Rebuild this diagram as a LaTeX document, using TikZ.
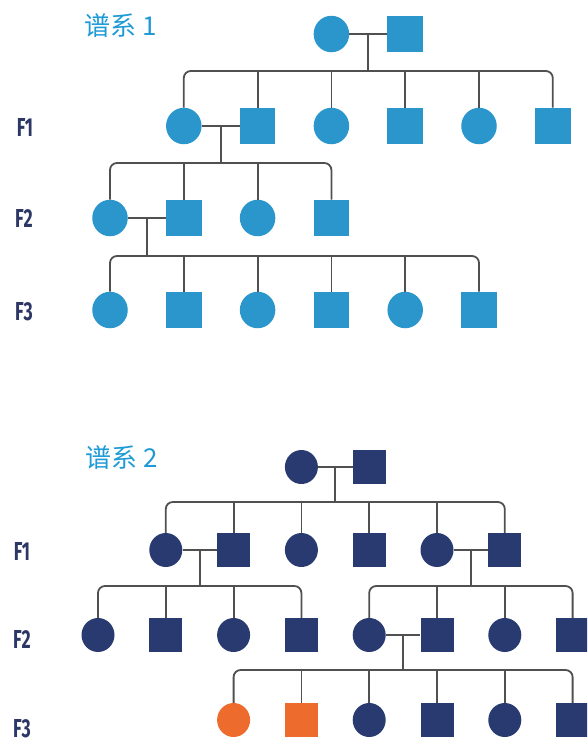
\documentclass[tikz,border=0pt]{standalone}
\usepackage{fontspec}
\usetikzlibrary{shapes.geometric,calc}
\newfontfamily\cjkfont{Noto Sans CJK SC}
\newfontfamily\genfont[FakeStretch=0.68]{Fira Sans}
\definecolor{skyfill}{HTML}{2B96CC}
\definecolor{navyfill}{HTML}{283A70}
\definecolor{orangefill}{HTML}{EE6B2E}
\definecolor{titleblue}{HTML}{1E9AD6}
\definecolor{genblue}{HTML}{2D3766}
\definecolor{linegray}{HTML}{505050}
\tikzset{
  fem/.style={ellipse, inner sep=0pt, draw=none, fill=#1},
  mal/.style={rectangle, inner sep=0pt, draw=none, fill=#1},
  sizeA/.style={minimum width=35.5pt, minimum height=36.5pt},
  sizeB/.style={minimum width=33pt, minimum height=34pt},
  link/.style={draw=linegray, line width=1.8pt},
  bar/.style={link, rounded corners=7pt},
  gen/.style={text=genblue, font=\genfont\bfseries\fontsize{26}{26}\selectfont, inner sep=0pt},
  title/.style={text=titleblue, font=\cjkfont\fontsize{26}{26}\selectfont, inner sep=0pt, anchor=west}
}
\begin{document}
\begin{tikzpicture}[x=1pt, y=-1pt]
\useasboundingbox (0,0) rectangle (587,745);
\clip (0,0) rectangle (587,745);

% ---------------- pedigree 1 ----------------
\node[title] (t1) at (84,26) {谱系 1};
\node[gen] (l11) at (25,127.5) {F1};
\node[gen] (l12) at (24,218) {F2};
\node[gen] (l13) at (24,312) {F3};

\begin{scope}[every node/.append style={sizeA}]
\node[fem=skyfill] (a1) at (331.4,34) {};
\node[mal=skyfill] (a2) at (405.2,34) {};

\node[fem=skyfill] (b1) at (183.8,126) {};
\node[mal=skyfill] (b2) at (257.6,126) {};
\node[fem=skyfill] (b3) at (331.4,126) {};
\node[mal=skyfill] (b4) at (405.2,126) {};
\node[fem=skyfill] (b5) at (479,126) {};
\node[mal=skyfill] (b6) at (552.8,126) {};

\node[fem=skyfill] (c1) at (110,218) {};
\node[mal=skyfill] (c2) at (183.8,218) {};
\node[fem=skyfill] (c3) at (257.6,218) {};
\node[mal=skyfill] (c4) at (331.4,218) {};

\node[fem=skyfill] (d1) at (110,310) {};
\node[mal=skyfill] (d2) at (183.8,310) {};
\node[fem=skyfill] (d3) at (257.6,310) {};
\node[mal=skyfill] (d4) at (331.4,310) {};
\node[fem=skyfill] (d5) at (405.2,310) {};
\node[mal=skyfill] (d6) at (479,310) {};
\end{scope}

% couples and sibling bars
\draw[link] (a1.east) -- (a2.west);
\coordinate (ma) at ($(a1.east)!0.5!(a2.west)$);
\coordinate (ba) at (ma |- 0,71);
\draw[link] (ma) -- (ba);
\draw[bar] (b1.north) |- (ba) -| (b6.north);
\foreach \k in {b2,b3,b4,b5} \draw[link] (\k.north) -- (\k.north |- ba);

\draw[link] (b1.east) -- (b2.west);
\coordinate (mb) at ($(b1.east)!0.5!(b2.west)$);
\coordinate (bb) at (mb |- 0,163);
\draw[link] (mb) -- (bb);
\draw[bar] (c1.north) |- (bb) -| (c4.north);
\foreach \k in {c2,c3} \draw[link] (\k.north) -- (\k.north |- bb);

\draw[link] (c1.east) -- (c2.west);
\coordinate (mc) at ($(c1.east)!0.5!(c2.west)$);
\coordinate (bc) at (mc |- 0,256);
\draw[link] (mc) -- (bc);
\draw[bar] (d1.north) |- (bc) -| (d6.north);
\foreach \k in {d2,d3,d4,d5} \draw[link] (\k.north) -- (\k.north |- bc);

% ---------------- pedigree 2 ----------------
\node[title] (t2) at (85,458) {谱系 2};
\node[gen] (l21) at (22,551) {F1};
\node[gen] (l22) at (22,639) {F2};
\node[gen] (l23) at (22,729) {F3};

\begin{scope}[every node/.append style={sizeB}]
\node[fem=navyfill] (e1) at (301.4,467) {};
\node[mal=navyfill] (e2) at (369.2,467) {};

\node[fem=navyfill] (f1) at (165.8,550) {};
\node[mal=navyfill] (f2) at (233.6,550) {};
\node[fem=navyfill] (f3) at (301.4,550) {};
\node[mal=navyfill] (f4) at (369.2,550) {};
\node[fem=navyfill] (f5) at (437,550) {};
\node[mal=navyfill] (f6) at (504.8,550) {};

\node[fem=navyfill] (g1) at (98,635) {};
\node[mal=navyfill] (g2) at (165.8,635) {};
\node[fem=navyfill] (g3) at (233.6,635) {};
\node[mal=navyfill] (g4) at (301.4,635) {};
\node[fem=navyfill] (g5) at (369.2,635) {};
\node[mal=navyfill] (g6) at (437,635) {};
\node[fem=navyfill] (g7) at (504.8,635) {};
\node[mal=navyfill] (g8) at (572.6,635) {};

\node[fem=orangefill] (h1) at (233.6,720) {};
\node[mal=orangefill] (h2) at (301.4,720) {};
\node[fem=navyfill] (h3) at (369.2,720) {};
\node[mal=navyfill] (h4) at (437,720) {};
\node[fem=navyfill] (h5) at (504.8,720) {};
\node[mal=navyfill] (h6) at (572.6,720) {};
\end{scope}

\draw[link] (e1.east) -- (e2.west);
\coordinate (me) at ($(e1.east)!0.5!(e2.west)$);
\coordinate (be) at (me |- 0,502);
\draw[link] (me) -- (be);
\draw[bar] (f1.north) |- (be) -| (f6.north);
\foreach \k in {f2,f3,f4,f5} \draw[link] (\k.north) -- (\k.north |- be);

\draw[link] (f1.east) -- (f2.west);
\coordinate (mf) at ($(f1.east)!0.5!(f2.west)$);
\coordinate (bf) at (mf |- 0,586);
\draw[link] (mf) -- (bf);
\draw[bar] (g1.north) |- (bf) -| (g4.north);
\foreach \k in {g2,g3} \draw[link] (\k.north) -- (\k.north |- bf);

\draw[link] (f5.east) -- (f6.west);
\coordinate (mg) at ($(f5.east)!0.5!(f6.west)$);
\coordinate (bg) at (mg |- 0,586);
\draw[link] (mg) -- (bg);
\draw[bar] (g5.north) |- (bg) -| (g8.north);
\foreach \k in {g6,g7} \draw[link] (\k.north) -- (\k.north |- bg);

\draw[link] (g5.east) -- (g6.west);
\coordinate (mh) at ($(g5.east)!0.5!(g6.west)$);
\coordinate (bh) at (mh |- 0,670);
\draw[link] (mh) -- (bh);
\draw[bar] (h1.north) |- (bh) -| (h6.north);
\foreach \k in {h2,h3,h4,h5} \draw[link] (\k.north) -- (\k.north |- bh);
\end{tikzpicture}
\end{document}
